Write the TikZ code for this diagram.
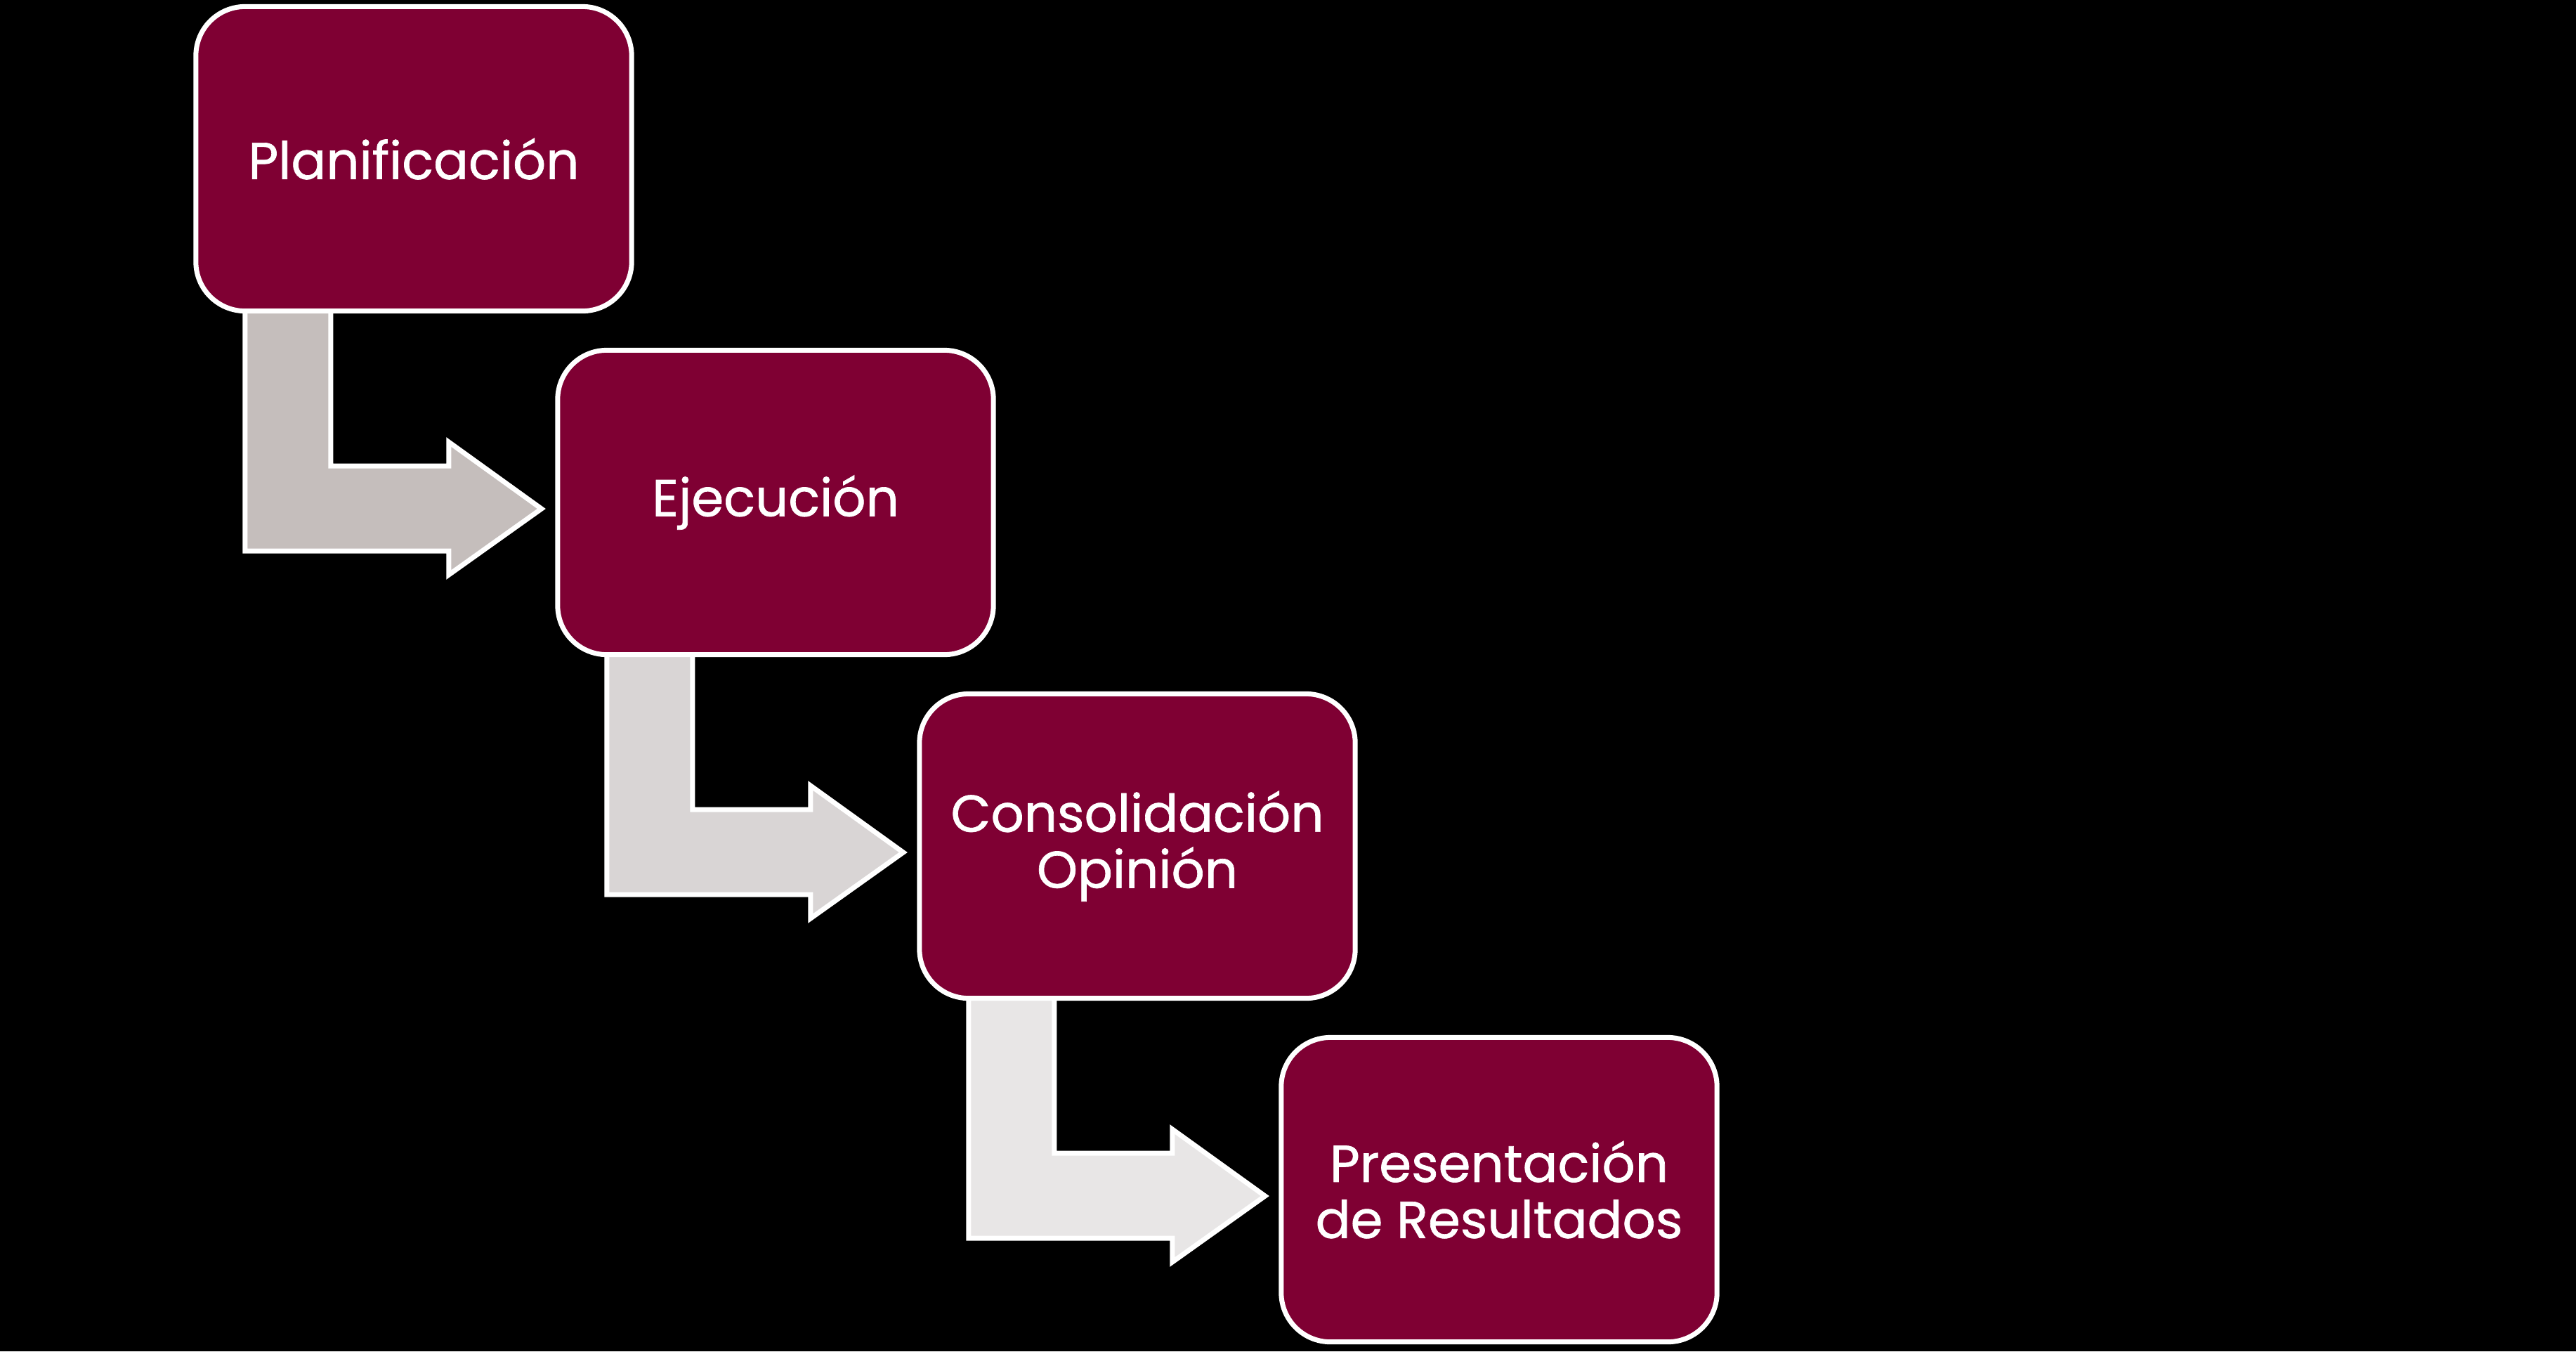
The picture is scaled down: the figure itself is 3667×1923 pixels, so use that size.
\documentclass[tikz,border=0pt]{standalone}
\usepackage{fontspec}
\setmainfont{Poppins}
\newfontfamily\boxfont{Poppins}[FakeBold=0.9]
\usetikzlibrary{calc}
\pgfdeclarelayer{back}
\pgfsetlayers{back,main}
\definecolor{boxfill}{HTML}{7F0033}
\definecolor{arrowA}{HTML}{C5BEBC}
\definecolor{arrowB}{HTML}{D9D5D5}
\definecolor{arrowC}{HTML}{E8E6E6}
\begin{document}
\begin{tikzpicture}[x=0.01cm,y=-0.01cm,
  stepbox/.style={draw=white, line width=0.07cm, fill=boxfill, rounded corners=0.7cm,
    minimum width=6.2cm, minimum height=4.33cm, outer sep=0pt, inner sep=0pt,
    text=white, align=center, font=\boxfont\fontsize{21pt}{22.7pt}\selectfont},
  conn/.style={draw=white, line width=0.07cm, line join=miter}]
\begin{pgfonlayer}{back}
\fill[black] (0,0) rectangle (3667,1923);
\end{pgfonlayer}
\useasboundingbox (0,0) rectangle (3667,1923);
\node[stepbox] (b1) at (589,226) {Planificación};
\node[stepbox] (b2) at (1104,715) {Ejecución};
\node[stepbox] (b3) at (1619,1204) {Consolidación\\Opinión};
\node[stepbox] (b4) at (2134,1693) {Presentación\\de Resultados};
\begin{pgfonlayer}{back}
\foreach \a/\b/\col in {b1/b2/arrowA, b2/b3/arrowB, b3/b4/arrowC}{
  \coordinate (tip) at ($(\b.west)+(-23,9)$);
  \coordinate (sl) at ($(\a.south west)+(70,-20)$);
  \coordinate (sr) at ($(\a.south west)+(192,-20)$);
  \coordinate (hb) at ($(tip)+(-132,60)$);
  \coordinate (hbb) at ($(tip)+(-132,94)$);
  \coordinate (htt) at ($(tip)+(-132,-95)$);
  \coordinate (hbt) at ($(tip)+(-132,-61)$);
  \draw[conn, fill=\col] (sl) -- (sl |- hb) -- (hb) -- (hbb) -- (tip) -- (htt) -- (hbt) -- (sr |- hbt) -- (sr) -- cycle;
}
\end{pgfonlayer}
\end{tikzpicture}
\end{document}
